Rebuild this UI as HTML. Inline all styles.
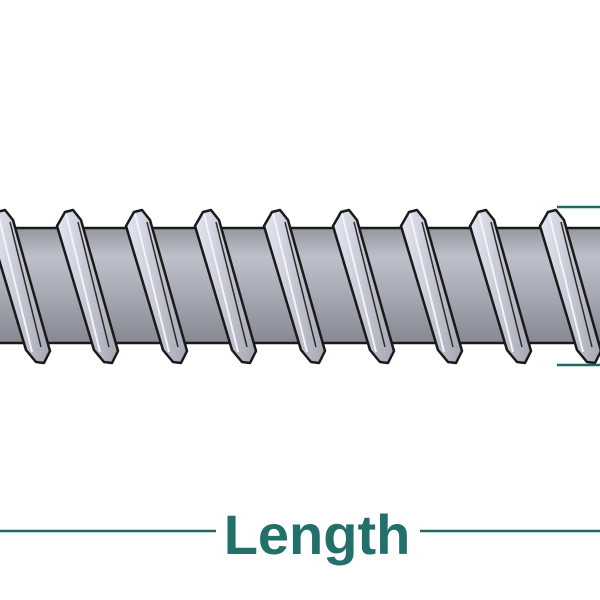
<!DOCTYPE html>
<html><head><style>html,body{margin:0;padding:0;background:#fff;}svg{display:block}</style></head>
<body>
<svg width="600" height="600" viewBox="0 0 600 600" xmlns="http://www.w3.org/2000/svg">
<defs>
<linearGradient id="sh" x1="0" y1="0" x2="0" y2="1">
<stop offset="0" stop-color="#95979f"/>
<stop offset="0.25" stop-color="#bdbfca"/>
<stop offset="0.55" stop-color="#a9abb6"/>
<stop offset="1" stop-color="#868892"/>
</linearGradient>
<linearGradient id="th" x1="0" y1="0" x2="1" y2="0">
<stop offset="0" stop-color="#e4e6f2"/>
<stop offset="1" stop-color="#a5a7b3"/>
</linearGradient>
<g id="t">
<path d="M-11,226 L-3,212 L5,210 L13,220 L50,351 L44,363 L36,362 L26,350 Z" fill="url(#th)" stroke="#1a1a1a" stroke-width="2.5" stroke-linejoin="round"/>
<path d="M10,222 L41,347" stroke="#2a2a2a" stroke-width="1.5" fill="none"/>
<path d="M-2,214 L32,352" stroke="#f2f3fa" stroke-width="2" fill="none"/>
</g>
</defs>
<rect x="-5" y="228" width="610" height="115" fill="url(#sh)" stroke="#1a1a1a" stroke-width="2.5"/>
<use href="#t" x="0"/>
<use href="#t" x="68"/>
<use href="#t" x="137"/>
<use href="#t" x="206"/>
<use href="#t" x="275"/>
<use href="#t" x="344"/>
<use href="#t" x="412"/>
<use href="#t" x="481"/>
<use href="#t" x="551"/>
<line x1="557" y1="207" x2="600" y2="207" stroke="#1f6b64" stroke-width="2.5"/>
<line x1="557" y1="365" x2="600" y2="365" stroke="#1f6b64" stroke-width="2.5"/>
<line x1="0" y1="531" x2="216" y2="531" stroke="#1f6b64" stroke-width="2.5"/>
<line x1="420" y1="531" x2="600" y2="531" stroke="#1f6b64" stroke-width="2.5"/>
<text x="317" y="554" text-anchor="middle" font-family="Liberation Sans, sans-serif" font-weight="bold" font-size="56" fill="#23706a">Length</text>
</svg>
</body></html>
